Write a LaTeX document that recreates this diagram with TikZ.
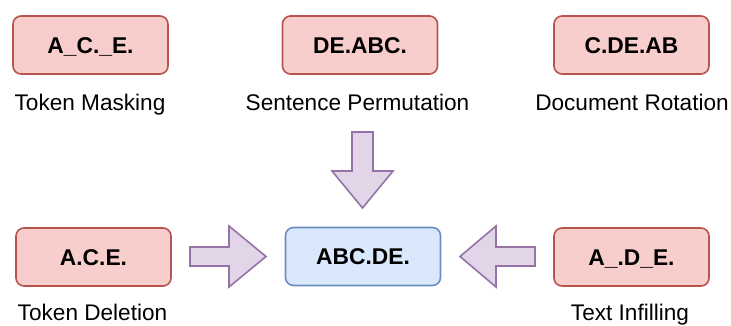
\documentclass[tikz,border=0pt]{standalone}
\usepackage{fontspec}
\setmainfont{Liberation Sans}
\definecolor{redfill}{HTML}{F8CECC}
\definecolor{redline}{HTML}{B85450}
\definecolor{bluefill}{HTML}{DAE8FC}
\definecolor{blueline}{HTML}{6C8EBF}
\definecolor{purplefill}{HTML}{E1D5E7}
\definecolor{purpleline}{HTML}{9673A6}
\begin{document}
\begin{tikzpicture}[x=1pt,y=-1pt,
  box/.style={rounded corners=8pt, line width=1.6pt, minimum width=155pt,
    minimum height=58pt, inner sep=0pt, text height=16.2pt, text depth=0pt,
    font=\fontsize{22.8}{27}\selectfont\bfseries},
  opbox/.style={box, fill=redfill, draw=redline},
  resbox/.style={box, fill=bluefill, draw=blueline},
  caption/.style={anchor=base, inner sep=0pt, font=\fontsize{22.6}{27}\selectfont},
  blockarrow/.style={fill=purplefill, draw=purpleline, line width=1.6pt}]
\useasboundingbox (0,0) rectangle (731,325);

% noising operations (top row)
\node[opbox] (mask) at (90.5,45) {A\_C.\_E.};
\node[opbox] (perm) at (360,45) {DE.ABC.};
\node[opbox] (rot) at (631.5,45) {C.DE.AB};
\node[caption] (maskl) at (90,110) {Token Masking};
\node[caption] (perml) at (357.5,110) {Sentence Permutation};
\node[caption] (rotl) at (632,110) {Document Rotation};

% bottom row with the original text in the middle
\node[opbox] (del) at (93.5,257) {A.C.E.};
\node[resbox] (orig) at (363,256.5) {ABC.DE.};
\node[opbox] (infill) at (631.5,257) {A\_.D\_E.};
\node[caption] (dell) at (92.5,320) {Token Deletion};
\node[caption] (infilll) at (630,320) {Text Infilling};

% block arrows pointing at the original text
\draw[blockarrow] (352,132) -- (373,132) -- (373,171) -- (393,171)
  -- (362.5,208) -- (332,171) -- (352,171) -- cycle;
\draw[blockarrow] (190,247) -- (229,247) -- (229,226) -- (266,256.5)
  -- (229,287) -- (229,266) -- (190,266) -- cycle;
\draw[blockarrow] (535,247) -- (496,247) -- (496,226) -- (460,256.5)
  -- (496,287) -- (496,266) -- (535,266) -- cycle;
\end{tikzpicture}
\end{document}
